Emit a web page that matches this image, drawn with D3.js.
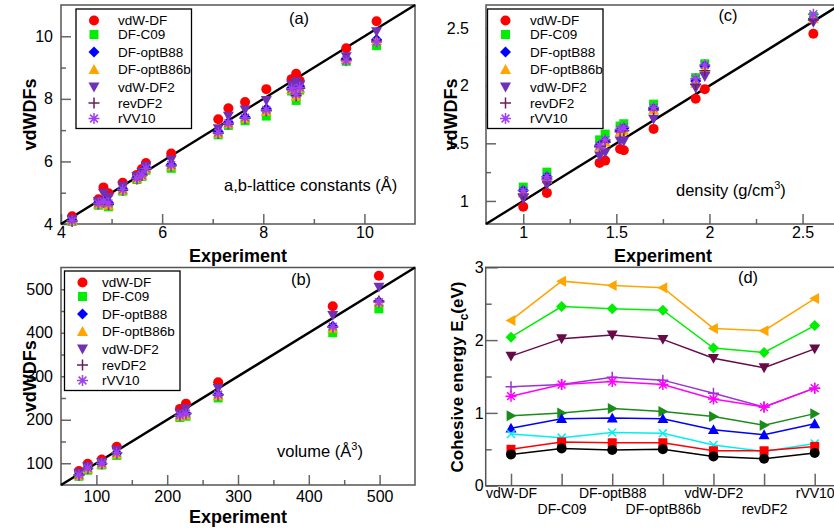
<!DOCTYPE html>
<html>
<head>
<meta charset="utf-8">
<script src="https://cdn.jsdelivr.net/npm/d3@7"></script>
<style>
  body { margin: 0; background: #fff; }
  text { font-family: "Liberation Sans", Arial, Helvetica, sans-serif; }
</style>
</head>
<body>
<svg id="chart" width="834" height="531"></svg>
<script>
// ---- data ----
const functionals = ["vdW-DF", "DF-C09", "DF-optB88", "DF-optB86b", "vdW-DF2", "revDF2", "rVV10"]

// (a) a,b-lattice constants
const latticeExp = [4.22, 4.74, 4.84, 4.94, 5.22, 5.5, 5.6, 5.68, 6.18, 7.11, 7.31, 7.64, 8.06, 8.56, 8.65, 8.72, 9.64, 10.24]
const latticeCalc = [
    [4.25, 4.79, 5.17, 4.98, 5.32, 5.57, 5.76, 5.95, 6.25, 7.35, 7.70, 7.90, 8.31, 8.63, 8.80, 8.58, 9.62, 10.48],
    [4.08, 4.60, 4.65, 4.55, 5.05, 5.42, 5.52, 5.72, 5.78, 6.85, 7.15, 7.30, 7.45, 8.25, 7.95, 8.28, 9.20, 9.70],
    [4.12, 4.68, 4.75, 4.68, 5.12, 5.48, 5.58, 5.80, 5.90, 6.95, 7.25, 7.42, 7.68, 8.35, 8.20, 8.40, 9.28, 9.90],
    [4.10, 4.64, 4.70, 4.60, 5.08, 5.45, 5.55, 5.76, 5.85, 6.90, 7.20, 7.38, 7.60, 8.30, 8.08, 8.33, 9.26, 9.86],
    [4.15, 4.72, 4.98, 4.85, 5.22, 5.52, 5.65, 5.85, 6.05, 7.05, 7.45, 7.65, 7.95, 8.45, 8.55, 8.45, 9.35, 10.15],
    [4.08, 4.64, 4.70, 4.62, 5.08, 5.44, 5.55, 5.76, 5.86, 6.90, 7.20, 7.38, 7.62, 8.30, 8.10, 8.34, 9.25, 9.85],
    [4.10, 4.66, 4.72, 4.66, 5.10, 5.46, 5.56, 5.78, 5.88, 6.92, 7.22, 7.40, 7.65, 8.32, 8.15, 8.36, 9.22, 9.82]
]
const latticeTicks = [4, 6, 8, 10]
const latticeMinor = [5, 7, 9]

// (b) volume
const volumeExp = [75.4, 87.7, 107.5, 128.7, 218, 226.5, 272, 433.8, 499]
const volumeCalc = [
    [82, 98.6, 108.5, 137.7, 225, 237, 286, 461, 531],
    [70, 84, 96, 118, 205, 208, 250, 400, 455],
    [73, 88, 99, 123, 210, 214, 258, 415, 472],
    [72, 87, 98, 121, 208, 211, 255, 410, 470],
    [77, 92, 102, 130, 215, 225, 272, 440, 505],
    [73, 88, 99, 124, 211, 215, 257, 413, 473],
    [73, 89, 100, 124, 210, 214, 258, 414, 470]
]
const volumeTicks = [100, 200, 300, 400, 500]
const volumeMinor = [150, 250, 350, 450]

// (c) density
const densityExp = [1.0, 1.127, 1.41, 1.44, 1.52, 1.54, 1.70, 1.926, 1.975, 2.558]
const densityCalc = [
    [0.95, 1.07, 1.33, 1.35, 1.45, 1.44, 1.625, 1.886, 1.97, 2.45],
    [1.12, 1.25, 1.53, 1.58, 1.65, 1.67, 1.84, 2.07, 2.19, 2.60],
    [1.09, 1.21, 1.48, 1.52, 1.61, 1.63, 1.80, 2.04, 2.17, 2.58],
    [1.07, 1.19, 1.47, 1.51, 1.60, 1.61, 1.79, 2.02, 2.14, 2.58],
    [1.02, 1.14, 1.39, 1.42, 1.52, 1.52, 1.71, 1.98, 2.08, 2.55],
    [1.06, 1.19, 1.47, 1.51, 1.60, 1.61, 1.79, 2.01, 2.13, 2.57],
    [1.09, 1.21, 1.48, 1.53, 1.62, 1.64, 1.81, 2.06, 2.18, 2.62]
]
const densityTicks = [1, 1.5, 2, 2.5]
const densityMinor = [1.25, 1.75, 2.25]

// (d) cohesive energies (eV), one row per system
const cohesive = [
    [2.27, 2.81, 2.75, 2.72, 2.16, 2.13, 2.57],
    [2.04, 2.46, 2.43, 2.41, 1.89, 1.83, 2.20],
    [1.78, 2.02, 2.07, 2.01, 1.75, 1.62, 1.88],
    [1.36, 1.39, 1.49, 1.45, 1.27, 1.08, 1.34],
    [1.23, 1.39, 1.43, 1.39, 1.19, 1.08, 1.34],
    [0.96, 1.00, 1.06, 1.02, 0.95, 0.83, 0.99],
    [0.79, 0.92, 0.93, 0.92, 0.77, 0.70, 0.85],
    [0.71, 0.66, 0.73, 0.72, 0.56, 0.47, 0.58],
    [0.50, 0.60, 0.59, 0.59, 0.48, 0.48, 0.54],
    [0.43, 0.51, 0.49, 0.50, 0.40, 0.37, 0.45]
]
const energyTicks = [0, 1, 2, 3]
const energyMinor = [0.5, 1.5, 2.5]

// ---- styles ----
const fnColors = ["#ff0000", "#00ee00", "#0000ff", "#ffa500", "#7030b8", "#6b1d5e", "#a040f0"]
const fnShapes = ["circle", "square", "diamond", "triUp", "triDown", "plus", "asterisk"]
const ecColors = ["#ffa500", "#00ee00", "#660a48", "#9a35d0", "#ff00ff", "#1a8c1a", "#0000ff", "#00f0f0", "#ff0000", "#000000"]
const ecShapes = ["triLeft", "diamond", "triDown", "plus", "asterisk", "triRight", "triUp", "times", "square", "circle"]

const svg = d3.select('#chart')
svg.append('rect').attr('width', 834).attr('height', 531).attr('fill', '#fff')

const shapePath = (type) => {
    const s = 5.5
    switch (type) {
        case "circle": return d3.symbol(d3.symbolCircle, Math.PI * 5 * 5)()
        case "square": return "M-4.5,-4.5H4.5V4.5H-4.5Z"
        case "diamond": return `M0,${-s}L${s},0L0,${s}L${-s},0Z`
        case "triUp": return `M0,${-s}L${s},${s * 0.8}L${-s},${s * 0.8}Z`
        case "triDown": return `M0,${s}L${s},${-s * 0.8}L${-s},${-s * 0.8}Z`
        case "triLeft": return `M${-s},0L${s * 0.8},${-s}L${s * 0.8},${s}Z`
        case "triRight": return `M${s},0L${-s * 0.8},${-s}L${-s * 0.8},${s}Z`
        case "plus": return `M${-s},0H${s}M0,${-s}V${s}`
        case "times": return "M-4,-4L4,4M-4,4L4,-4"
        case "asterisk": return `M${-s},0H${s}M0,${-s}V${s}M-3.9,-3.9L3.9,3.9M-3.9,3.9L3.9,-3.9`
    }
}
const isStroke = t => t === "plus" || t === "times" || t === "asterisk"

const addMarker = (g, type, color, cx, cy) => {
    g.append('path')
        .attr('d', shapePath(type))
        .attr('transform', `translate(${cx},${cy})`)
        .attr('fill', isStroke(type) ? 'none' : color)
        .attr('stroke', isStroke(type) ? color : 'none')
        .attr('stroke-width', 1.5)
}

const styleAxis = (sel, size) => {
    sel.select('.domain').remove()
    sel.attr('font-family', null).attr('font-size', null)
    sel.selectAll('.tick line').attr('stroke', '#666').attr('stroke-width', 1.5)
    sel.selectAll('.tick text').attr('fill', '#000').style('font-size', size + 'px')
}

const drawFrame = (p, x, y) => {
    const g = svg.append('g')
    g.append('g').attr('transform', `translate(0,${p.bottom})`)
        .call(d3.axisBottom(x).tickValues(p.xMajor).tickSize(-p.major).tickPadding(p.xPad).tickFormat(p.xFormat || (d => d)))
        .call(s => styleAxis(s, p.fs))
    if (p.xMinor) {
        g.append('g').attr('transform', `translate(0,${p.bottom})`)
            .call(d3.axisBottom(x).tickValues(p.xMinor).tickSize(-p.minor).tickFormat(''))
            .call(s => styleAxis(s, p.fs))
    }
    g.append('g').attr('transform', `translate(${p.left},0)`)
        .call(d3.axisLeft(y).tickValues(p.yMajor).tickSize(-p.major).tickPadding(p.yPad).tickFormat(d => d))
        .call(s => styleAxis(s, p.fs))
    g.append('g').attr('transform', `translate(${p.left},0)`)
        .call(d3.axisLeft(y).tickValues(p.yMinor).tickSize(-p.minor).tickFormat(''))
        .call(s => styleAxis(s, p.fs))
    // frame box
    g.append('rect')
        .attr('x', p.left).attr('y', p.top)
        .attr('width', p.right - p.left).attr('height', p.bottom - p.top)
        .attr('fill', 'none').attr('stroke', '#555').attr('stroke-width', 1.5)
    return g
}

const drawScatter = (p, exp, calc) => {
    const x = d3.scaleLinear().domain(p.domain).range([p.left, p.right])
    const y = d3.scaleLinear().domain(p.domain).range([p.bottom, p.top])
    drawFrame(p, x, y)
    const g = svg.append('g')
    // y = x line
    g.append('line')
        .attr('x1', x(p.domain[0])).attr('y1', y(p.domain[0]))
        .attr('x2', x(p.domain[1])).attr('y2', y(p.domain[1]))
        .attr('stroke', '#000').attr('stroke-width', 2.5)
    calc.forEach((vals, i) => {
        vals.forEach((v, j) => addMarker(g, fnShapes[i], fnColors[i], x(exp[j]), y(v)))
    })
    // legend
    const lg = svg.append('g').attr('transform', `translate(${p.legX},${p.legY})`)
    lg.append('rect').attr('width', 115.5).attr('height', 119.5)
        .attr('fill', '#fff').attr('stroke', '#000').attr('stroke-width', 1.3)
    const rows = [11.5, 25.5, 43, 60.5, 78, 94, 109.5]
    functionals.forEach((name, i) => {
        addMarker(lg, fnShapes[i], fnColors[i], 18, rows[i])
        lg.append('text').attr('x', p.legText).attr('y', rows[i]).attr('dy', '0.36em')
            .style('font-size', '13.5px').text(name)
    })
    // panel tag
    svg.append('text').attr('x', p.tag[0]).attr('y', p.tag[1]).attr('text-anchor', 'middle')
        .style('font-size', '16.5px').text(p.tagText)
    // axis titles
    svg.append('text').attr('x', p.xTitleX).attr('y', p.bottom + 37.5)
        .attr('text-anchor', 'middle').style('font-size', '18px').style('font-weight', 'bold').text('Experiment')
    svg.append('text').attr('transform', `translate(${p.yTitleX},${(p.top + p.bottom) / 2}) rotate(-90)`)
        .attr('text-anchor', 'middle').attr('dy', '0.35em')
        .style('font-size', '18px').style('font-weight', 'bold').text('vdWDFs')
    return { x, y }
}

// ---- panel (a) ----
drawScatter({
    left: 61, right: 415, top: 5, bottom: 224, domain: [4, 11],
    xMajor: latticeTicks, xMinor: latticeMinor, yMajor: latticeTicks, yMinor: latticeMinor,
    major: 10, minor: 5, xPad: 3, yPad: 8, fs: 16,
    legX: 76, legY: 9, legText: 42, tag: [299, 24], tagText: '(a)',
    xTitleX: 238, yTitleX: 30
}, latticeExp, latticeCalc)
svg.append('text').attr('x', 224).attr('y', 191).style('font-size', '16.5px').text('a,b-lattice constants (Å)')

// ---- panel (b) ----
drawScatter({
    left: 61, right: 415, top: 267.5, bottom: 485, domain: [50, 550],
    xMajor: volumeTicks, xMinor: volumeMinor, yMajor: volumeTicks, yMinor: volumeMinor,
    major: 10, minor: 5, xPad: 6, yPad: 8, fs: 16,
    legX: 64.5, legY: 271, legText: 37.5, tag: [301, 285], tagText: '(b)',
    xTitleX: 238, yTitleX: 30
}, volumeExp, volumeCalc)
const vol = svg.append('text').attr('x', 277).attr('y', 457).style('font-size', '16.5px')
vol.append('tspan').text('volume (Å')
vol.append('tspan').attr('dy', '-7').style('font-size', '11px').text('3')
vol.append('tspan').attr('dy', '7').text(')')

// ---- panel (c) ----
drawScatter({
    left: 486, right: 839.8, top: 5, bottom: 224, domain: [0.8, 2.7],
    xMajor: densityTicks, xMinor: densityMinor, yMajor: densityTicks, yMinor: densityMinor,
    major: 10, minor: 5, xPad: 3, yPad: 17, fs: 16,
    legX: 487.5, legY: 9, legText: 42.5, tag: [728, 21], tagText: '(c)',
    xTitleX: 663, yTitleX: 451
}, densityExp, densityCalc)
const den = svg.append('text').attr('x', 676).attr('y', 196).style('font-size', '16.5px')
den.append('tspan').text('density (g/cm')
den.append('tspan').attr('dy', '-7').style('font-size', '11px').text('3')
den.append('tspan').attr('dy', '7').text(')')

// ---- panel (d) ----
const pd = {
    left: 485.7, right: 840, top: 267.3, bottom: 485.7,
    xMajor: d3.range(functionals.length), yMajor: energyTicks, yMinor: energyMinor,
    major: 12, minor: 6, xPad: 2.5, yPad: 2, fs: 16,
    xFormat: i => functionals[i]
}
const xd = d3.scaleLinear().domain([-0.5, functionals.length - 0.5]).range([pd.left, pd.right])
const yd = d3.scaleLinear().domain([0, 3]).range([pd.bottom, pd.top])
const frameD = drawFrame(pd, xd, yd)
frameD.selectAll('g').filter((d, i) => i === 0).selectAll('.tick text')
    .style('font-size', '14px')
    .attr('dy', (d, i) => i % 2 ? '1.85em' : '0.71em')

const line = d3.line().x((d, i) => xd(i)).y(d => yd(d))
const gd = svg.append('g')
cohesive.forEach((vals, k) => {
    gd.append('path').attr('d', line(vals)).attr('fill', 'none')
        .attr('stroke', ecColors[k]).attr('stroke-width', 1.5)
})
cohesive.forEach((vals, k) => {
    vals.forEach((v, i) => addMarker(gd, ecShapes[k], ecColors[k], xd(i), yd(v)))
})
svg.append('text').attr('x', 748).attr('y', 283).attr('text-anchor', 'middle')
    .style('font-size', '16.5px').text('(d)')
const yl = svg.append('text').attr('transform', `translate(457,377) rotate(-90)`)
    .attr('text-anchor', 'middle').attr('dy', '0.35em')
    .style('font-size', '17px').style('font-weight', 'bold')
yl.append('tspan').text('Cohesive energy E')
yl.append('tspan').attr('dy', '5').style('font-size', '12px').text('c')
yl.append('tspan').attr('dy', '-5').text('(eV)')
</script>
</body>
</html>
